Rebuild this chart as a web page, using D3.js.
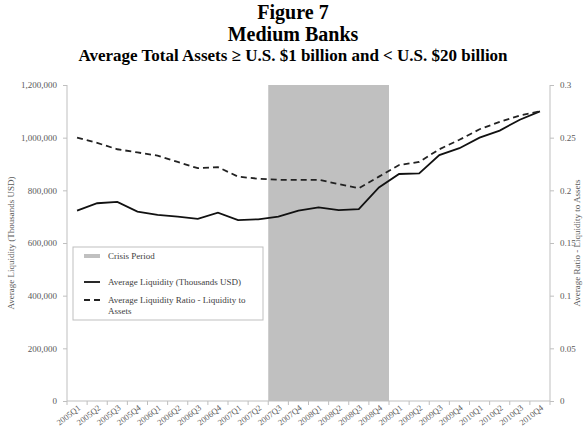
<!DOCTYPE html>
<html>
<head>
<meta charset="utf-8">
<script src="https://cdn.jsdelivr.net/npm/d3@7"></script>
<style>
  body { margin: 0; background: #fff; }
  svg { font-family: "Liberation Serif", "Times New Roman", serif; }
</style>
</head>
<body>
<div id="app"></div>
<script>
const quarters = [
  '2005Q1', '2005Q2', '2005Q3', '2005Q4', '2006Q1', '2006Q2', '2006Q3', '2006Q4',
  '2007Q1', '2007Q2', '2007Q3', '2007Q4', '2008Q1', '2008Q2', '2008Q3', '2008Q4',
  '2009Q1', '2009Q2', '2009Q3', '2009Q4', '2010Q1', '2010Q2', '2010Q3', '2010Q4'
];
// thousands of USD
const avgLiquidity = [
  723000, 751000, 756000, 719000, 707000, 700000, 692000, 715000,
  687000, 690000, 700000, 723000, 735000, 725000, 729000, 811000,
  862000, 864000, 934000, 960000, 1000000, 1027000, 1068000, 1100000
];
const avgRatio = [
  0.250, 0.245, 0.239, 0.236, 0.233, 0.227, 0.221, 0.222,
  0.213, 0.211, 0.210, 0.210, 0.210, 0.206, 0.202, 0.213,
  0.224, 0.227, 0.239, 0.248, 0.258, 0.265, 0.271, 0.275
];
const crisisPeriod = ['2007Q3', '2008Q4'];
const leftTicks = [0, 200000, 400000, 600000, 800000, 1000000, 1200000];
const rightTicks = [0, 0.05, 0.1, 0.15, 0.2, 0.25, 0.3];
const titleLines = [
  'Figure 7',
  'Medium Banks',
  'Average Total Assets \u2265 U.S. $1 billion and < U.S. $20 billion'
];
const legendItems = [
  { label: ['Crisis Period'], kind: 'crisis' },
  { label: ['Average Liquidity (Thousands USD)'], kind: 'solid' },
  { label: ['Average Liquidity Ratio - Liquidity to', 'Assets'], kind: 'dashed' }
];

const width = 585;
const height = 431;
const margin = { top: 85, right: 35, bottom: 30, left: 67 };
const axisGrey = '#bfbfbf';
const labelGrey = '#595959';

const svg = d3.select('#app').append('svg')
  .attr('width', width)
  .attr('height', height);

const x = d3.scaleBand()
  .domain(quarters)
  .range([margin.left, width - margin.right]);

const yLeft = d3.scaleLinear()
  .domain([0, 1200000])
  .range([height - margin.bottom, margin.top]);

const yRight = d3.scaleLinear()
  .domain([0, 0.3])
  .range([height - margin.bottom, margin.top]);

const cx = q => x(q) + x.bandwidth() / 2;

// titles
const titleY = [19, 41, 61];
const titleSize = [20, 20, 17];
svg.selectAll('text.title')
  .data(titleLines)
  .enter().append('text')
  .attr('class', 'title')
  .attr('x', 293)
  .attr('y', (d, i) => titleY[i])
  .attr('text-anchor', 'middle')
  .attr('font-weight', 'bold')
  .attr('font-size', (d, i) => titleSize[i])
  .text(d => d);

// crisis shading
svg.append('rect')
  .attr('x', x(crisisPeriod[0]))
  .attr('y', margin.top)
  .attr('width', x(crisisPeriod[1]) + x.bandwidth() - x(crisisPeriod[0]))
  .attr('height', yLeft(0) - margin.top)
  .attr('fill', '#c0c0c0');

// left axis
const leftAxis = svg.append('g')
  .attr('transform', `translate(${margin.left},0)`)
  .call(d3.axisLeft(yLeft).tickValues(leftTicks).tickSize(4).tickPadding(6).tickFormat(d3.format(',')));

// right axis
const rightAxis = svg.append('g')
  .attr('transform', `translate(${width - margin.right},0)`)
  .call(d3.axisRight(yRight).tickValues(rightTicks).tickSize(4).tickPadding(6).tickFormat(d => d3.format('')(+d.toFixed(2))));

// bottom axis with ticks between categories
const bottom = svg.append('g')
  .attr('transform', `translate(0,${yLeft(0)})`);
bottom.append('line')
  .attr('x1', margin.left).attr('x2', width - margin.right)
  .attr('stroke', axisGrey);
const edges = quarters.map(q => x(q)).concat([x(quarters[quarters.length - 1]) + x.bandwidth()]);
bottom.selectAll('line.tick')
  .data(edges)
  .enter().append('line')
  .attr('class', 'tick')
  .attr('x1', d => d).attr('x2', d => d)
  .attr('y1', 0).attr('y2', 4)
  .attr('stroke', axisGrey);
bottom.selectAll('text')
  .data(quarters)
  .enter().append('text')
  .attr('transform', d => `translate(${cx(d) + 4},${8}) rotate(-38)`)
  .attr('text-anchor', 'end')
  .attr('font-size', 8.5)
  .attr('fill', labelGrey)
  .text(d => d);

[leftAxis, rightAxis].forEach(g => {
  g.select('.domain').attr('stroke', axisGrey);
  g.selectAll('.tick line').attr('stroke', axisGrey);
  g.selectAll('.tick text')
    .attr('font-family', '"Liberation Serif", serif')
    .attr('font-size', 9)
    .attr('fill', labelGrey);
});
leftAxis.select('.domain').attr('d', `M0,${margin.top}V${yLeft(0)}`);
rightAxis.select('.domain').attr('d', `M0,${margin.top}V${yLeft(0)}`);

// axis titles
svg.append('text')
  .attr('transform', `translate(14,${(margin.top + yLeft(0)) / 2}) rotate(-90)`)
  .attr('text-anchor', 'middle')
  .attr('font-size', 9)
  .attr('fill', labelGrey)
  .text('Average Liquidity (Thousands USD)');

svg.append('text')
  .attr('transform', `translate(580,${(margin.top + yLeft(0)) / 2}) rotate(-90)`)
  .attr('text-anchor', 'middle')
  .attr('font-size', 9)
  .attr('fill', labelGrey)
  .text('Average Ratio - Liquidity to Assets');

// lines
const liqLine = d3.line()
  .x((d, i) => cx(quarters[i]))
  .y(d => yLeft(d));
const ratioLine = d3.line()
  .x((d, i) => cx(quarters[i]))
  .y(d => yRight(d));

svg.append('path')
  .datum(avgLiquidity)
  .attr('d', liqLine)
  .attr('fill', 'none')
  .attr('stroke', '#111')
  .attr('stroke-width', 1.8);

svg.append('path')
  .datum(avgRatio)
  .attr('d', ratioLine)
  .attr('fill', 'none')
  .attr('stroke', '#222')
  .attr('stroke-width', 1.8)
  .attr('stroke-dasharray', '6,4');

// legend
const legend = svg.append('g').attr('transform', 'translate(73,247)');
legend.append('rect')
  .attr('width', 190).attr('height', 73)
  .attr('fill', '#fff')
  .attr('stroke', axisGrey);

const legendRowY = [9, 35, 53];
legendItems.forEach((item, i) => {
  const row = legend.append('g').attr('transform', `translate(0,${legendRowY[i]})`);
  const sym = row.append('line')
    .attr('x1', 11).attr('x2', 27)
    .attr('y1', 0).attr('y2', 0);
  if (item.kind === 'crisis') {
    sym.attr('stroke', '#c0c0c0').attr('stroke-width', 4);
  } else if (item.kind === 'solid') {
    sym.attr('stroke', '#111').attr('stroke-width', 1.8);
  } else {
    sym.attr('stroke', '#222').attr('stroke-width', 1.8).attr('stroke-dasharray', '6,4');
  }
  row.selectAll('text')
    .data(item.label)
    .enter().append('text')
    .attr('x', 35)
    .attr('y', (d, j) => 3 + j * 11)
    .attr('font-size', 9)
    .attr('fill', '#404040')
    .text(d => d);
});
</script>
</body>
</html>
